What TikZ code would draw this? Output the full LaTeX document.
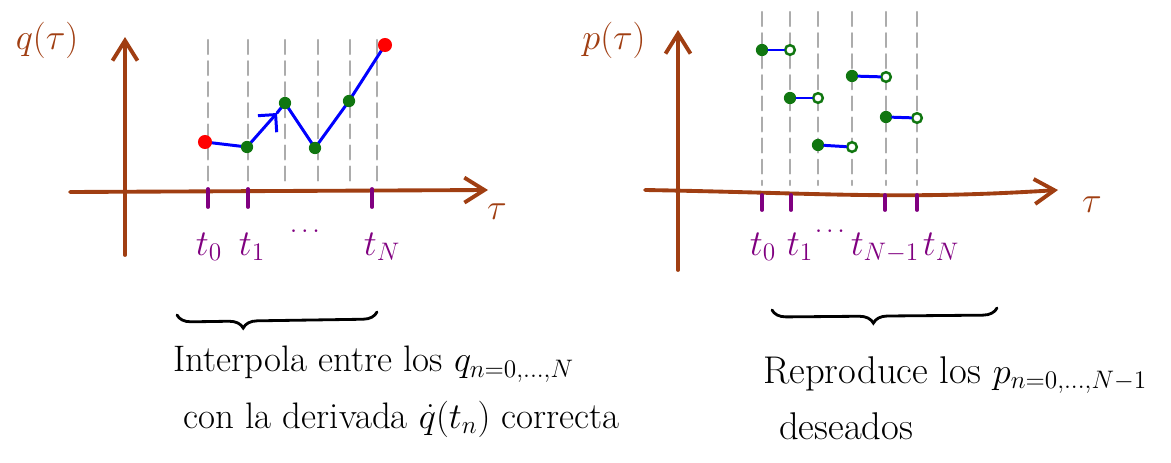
\documentclass[tikz,border=0pt]{standalone}
\usepackage{amsmath,amssymb}
\usepackage{tikz}
\usetikzlibrary{arrows.meta,decorations.pathreplacing}
\usepackage{xcolor}
\definecolor{axbrown}{RGB}{160,62,18}
\definecolor{tickpurple}{RGB}{128,0,128}
\definecolor{dotgreen}{RGB}{16,118,16}

\begin{document}
\begin{tikzpicture}[x=0.02cm,y=-0.02cm,>={Straight Barb[length=4mm,width=5mm]},line cap=round,
  axis/.style={axbrown,line width=2.2pt,->},
  guide/.style={gray!65,line width=1.2pt,dash pattern=on 8pt off 4pt},
  tick/.style={tickpurple,line width=2.2pt},
  curve/.style={blue,line width=1.7pt},
  fulldot/.style={circle,fill=dotgreen,inner sep=0pt,minimum size=7pt},
  opendot/.style={circle,draw=dotgreen,line width=1.4pt,fill=white,inner sep=0pt,minimum size=5.5pt},
  enddot/.style={circle,fill=red,inner sep=0pt,minimum size=8pt},
  tlab/.style={tickpurple,font=\fontsize{22}{24}\selectfont,anchor=base,inner sep=0.5pt},
  tdots/.style={tickpurple,font=\fontsize{15}{18}\selectfont,inner sep=0.5pt},
  axlab/.style={axbrown,font=\fontsize{22}{24}\selectfont},
  note/.style={font=\fontsize{#1}{32}\selectfont,anchor=north west,align=left,inner sep=0.5pt},
  underbrace/.style={decorate,line width=1.6pt,decoration={brace,mirror,amplitude=8pt,aspect=#1}}]
\useasboundingbox (0,0) rectangle (1171,463);
\foreach \x in {208,248,285,318,350,377}
  \draw[guide] (\x,40) -- (\x,185);
\draw[axis] (125,255) -- (125,37);
\draw[axis] (70,192) -- (488,190);
\node[axlab] (qlab) at (47,40) {$q(\tau)$};
\node[axlab] (taul) at (497,212) {$\tau$};
\foreach \x in {208,248,372}
  \draw[tick] (\x,189) -- (\x,207);
\node[tlab] (lt0) at (209,255) {$t_0$};
\node[tlab] (lt1) at (252,255) {$t_1$};
\node[tdots] (ldots) at (307,232) {$\cdots$};
\node[tlab] (ltN) at (382,255) {$t_N$};
\coordinate (q0) at (205,142);
\coordinate (q1) at (247,147);
\coordinate (qa) at (277,113);
\coordinate (q2) at (285,103);
\coordinate (qb) at (305,133);
\coordinate (q3) at (315,148);
\coordinate (q4) at (349,101);
\coordinate (q5) at (385,45);
\draw[curve] (q0) -- (q1);
\draw[curve,-{Straight Barb[length=2.5mm,width=5mm]}] (q1) -- (qa);
\draw[curve] (qa) -- (q2) -- (qb) -- (q3) -- (q4) -- (q5);
\node[enddot] (dq0) at (q0) {};
\node[fulldot] (dq1) at (q1) {};
\node[fulldot] (dq2) at (q2) {};
\node[fulldot] (dq3) at (q3) {};
\node[fulldot] (dq4) at (q4) {};
\node[enddot] (dq5) at (q5) {};
\foreach \x in {762,790,818,852,886,917}
  \draw[guide] (\x,12) -- (\x,185);
\draw[axis] (678,270) -- (678,30);
\draw[axis] (645,190) .. controls (820,193) and (900,200) .. (1058,190);
\node[axlab] (plab) at (614,40) {$p(\tau)$};
\node[axlab] (taur) at (1092,205) {$\tau$};
\foreach \x in {762,791,885,917}
  \draw[tick] (\x,195) -- (\x,210);
\node[tlab] (rt0) at (763,255) {$t_0$};
\node[tlab] (rt1) at (800,255) {$t_1$};
\node[tdots] (rdots) at (832,232) {$\cdots$};
\node[tlab] (rtN1) at (885,255) {$t_{N-1}$};
\node[tlab] (rtN) at (941,255) {$t_N$};
\node[fulldot] (p0) at (762,50) {};
\node[opendot] (e0) at (790,50) {};
\node[fulldot] (p1) at (790,98) {};
\node[opendot] (e1) at (818,98) {};
\node[fulldot] (p2) at (818,145) {};
\node[opendot] (e2) at (852,147) {};
\node[fulldot] (p3) at (852,76) {};
\node[opendot] (e3) at (886,77) {};
\node[fulldot] (p4) at (886,117) {};
\node[opendot] (e4) at (917,118) {};
\foreach \i in {0,...,4}
  \draw[curve] (p\i) -- (e\i);
\draw[underbrace=0.33] (177,315) -- (377,312);
\draw[underbrace=0.45] (772,310) -- (997,308);
\node[note=21] (notel) at (172,345) {Interpola entre los $q_{n=0,\ldots,N}$\\
  \hspace*{6pt}con la derivada $\dot q(t_n)$ correcta};
\node[note=22] (noter) at (762,355) {Reproduce los $p_{n=0,\ldots,N-1}$\\
  \hspace*{9pt}deseados};
\end{tikzpicture}
\end{document}
